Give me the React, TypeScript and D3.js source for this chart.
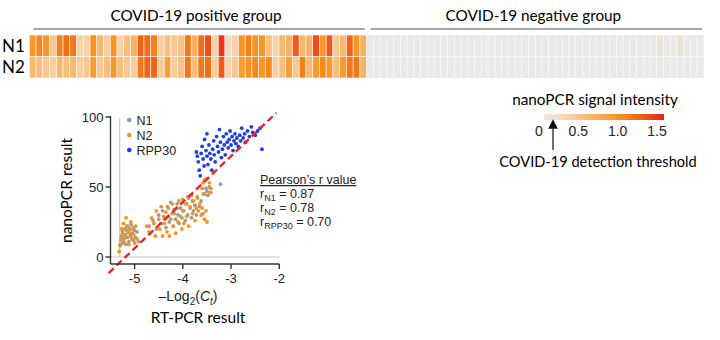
import React from 'react';
import * as d3 from 'd3';

// ---------- DATA ----------
const groupLabels = ['COVID-19 positive group', 'COVID-19 negative group'];
const rowLabels = ['N1', 'N2'];

const posN1 = [0.9, 1.0, 0.9, 0.4, 1.05, 1.15, 1.1, 0.3, 0.3, 0.95,
  0.55, 0.35, 0.95, 0.3, 0.5, 0.6, 1.2, 1.15, 1.05, 0.35,
  0.5, 0.4, 0.45, 1.1, 0.6, 1.15, 1.3, 0.3, 1.4, 0.2,
  0.3, 0.95, 1.05, 0.95, 0.9, 0.5, 0.3, 0.55, 0.6, 1.25,
  0.55, 0.6, 1.3, 0.9, 1.25, 0.4, 0.55, 1.2, 0.9, 0.6];
const posN2 = [0.55, 0.5, 0.4, 0.35, 0.55, 0.5, 0.55, 0.35, 0.4, 0.85,
  0.4, 0.5, 0.9, 0.5, 0.4, 0.35, 1.1, 1.2, 1.2, 0.35,
  0.8, 0.35, 0.45, 1.1, 0.5, 1.1, 1.15, 0.35, 1.25, 0.3,
  0.4, 0.85, 0.95, 1.0, 0.9, 1.0, 0.35, 0.5, 0.8, 0.4,
  1.05, 0.55, 0.85, 1.0, 0.9, 0.5, 0.85, 1.1, 1.1, 0.6];
const negN1 = [0, 0, 0, 0, 0, 0, 0, 0, 0, 0,
  0, 0, 0, 0, 0, 0, 0, 0, 0, 0,
  0, 0, 0, 0, 0, 0, 0, 0, 0, 0,
  0, 0, 0, 0, 0, 0, 0, 0, 0, 0,
  0, 0, 0, 0.08, 0, 0, 0.1, 0, 0, 0];
const negN2 = [0, 0, 0, 0, 0, 0, 0, 0, 0, 0,
  0, 0, 0, 0, 0, 0, 0, 0, 0, 0,
  0, 0, 0, 0, 0, 0, 0, 0, 0, 0,
  0, 0, 0, 0, 0, 0, 0, 0, 0, 0,
  0, 0, 0, 0, 0, 0, 0, 0, 0, 0];

const colorStops = [0, 0.3, 0.6, 0.95, 1.2, 1.5];
const colorRange = ['#ebe9e7', '#f8d3aa', '#f9b265', '#f7931e', '#f26415', '#e91c1f'];
const colorbarTicks = ['0', '0.5', '1.0', '1.5'];

const n1Points: [number, number][] = [
  [-5.3, 9], [-5.28, 12], [-5.27, 15], [-5.25, 18], [-5.24, 10], [-5.22, 13], [-5.2, 20], [-5.19, 16],
  [-5.18, 9], [-5.16, 22], [-5.15, 14], [-5.13, 18], [-5.12, 11], [-5.1, 20], [-5.08, 15], [-5.07, 23],
  [-5.05, 17], [-5.03, 12], [-5.02, 21], [-5.0, 19], [-4.98, 14], [-4.95, 18], [-4.92, 11],
  [-4.7, 22], [-4.62, 26], [-4.55, 20], [-4.5, 30], [-4.45, 24], [-4.42, 33], [-4.38, 27], [-4.35, 21],
  [-4.32, 36], [-4.3, 29], [-4.28, 25], [-4.25, 39], [-4.22, 31], [-4.2, 22], [-4.18, 34], [-4.15, 27],
  [-4.12, 38], [-4.1, 30], [-4.08, 24], [-4.05, 35], [-4.02, 28], [-4.0, 41], [-3.98, 33], [-3.95, 26],
  [-3.92, 38], [-3.9, 30], [-3.88, 42], [-3.85, 35], [-3.82, 28], [-3.8, 40], [-3.78, 33], [-3.75, 37],
  [-3.72, 30], [-3.7, 43], [-3.65, 36], [-3.62, 40], [-3.58, 31], [-3.55, 45], [-3.52, 49], [-3.5, 47],
  [-3.48, 44], [-3.45, 50], [-3.42, 46], [-3.22, 52]];
const n2Points: [number, number][] = [
  [-5.32, 4], [-5.3, 8], [-5.28, 13], [-5.27, 20], [-5.25, 17], [-5.23, 24], [-5.22, 11], [-5.2, 15],
  [-5.18, 28], [-5.16, 19], [-5.14, 22], [-5.12, 9], [-5.1, 17], [-5.08, 25], [-5.06, 13], [-5.04, 20],
  [-5.02, 16], [-5.0, 10], [-4.98, 22], [-4.95, 13],
  [-4.75, 22], [-4.7, 18], [-4.65, 28], [-4.6, 24], [-4.57, 15], [-4.55, 33], [-4.5, 27], [-4.48, 20],
  [-4.45, 36], [-4.42, 15], [-4.4, 29], [-4.38, 24], [-4.35, 32], [-4.33, 18], [-4.3, 35], [-4.28, 15],
  [-4.25, 27], [-4.22, 38], [-4.2, 22], [-4.18, 31], [-4.15, 17], [-4.12, 35], [-4.1, 25], [-4.08, 40],
  [-4.05, 29], [-4.02, 20], [-4.0, 33], [-3.98, 24], [-3.95, 38], [-3.92, 29], [-3.9, 43], [-3.88, 22],
  [-3.85, 36], [-3.82, 44], [-3.8, 31], [-3.78, 40], [-3.75, 26], [-3.72, 35], [-3.7, 42], [-3.68, 33],
  [-3.65, 38], [-3.62, 30], [-3.6, 35], [-3.58, 45], [-3.55, 27], [-3.52, 33], [-3.5, 25], [-3.6, 49],
  [-3.58, 53], [-3.55, 55], [-3.5, 56], [-3.45, 53], [-3.42, 49], [-3.45, 46]];
const rppPoints: [number, number][] = [
  [-3.72, 75], [-3.7, 72], [-3.68, 68], [-3.66, 62], [-3.64, 58], [-3.62, 74], [-3.6, 79], [-3.58, 70],
  [-3.56, 65], [-3.55, 84], [-3.52, 76], [-3.5, 72], [-3.5, 88], [-3.48, 66], [-3.46, 80], [-3.44, 74],
  [-3.42, 70], [-3.4, 62], [-3.38, 77], [-3.36, 83], [-3.35, 73], [-3.33, 68], [-3.3, 86], [-3.28, 79],
  [-3.26, 75], [-3.24, 91], [-3.22, 82], [-3.2, 71], [-3.18, 77], [-3.16, 86], [-3.14, 80], [-3.12, 73],
  [-3.1, 88], [-3.08, 82], [-3.06, 78], [-3.04, 84], [-3.02, 90], [-3.0, 80], [-2.98, 86], [-2.96, 76],
  [-2.94, 83], [-2.92, 88], [-2.9, 81], [-2.88, 85], [-2.85, 79], [-2.82, 87], [-2.8, 83], [-2.78, 92],
  [-2.75, 85], [-2.72, 88], [-2.7, 82], [-2.66, 90], [-2.62, 86], [-2.58, 93], [-2.55, 89], [-2.5, 87],
  [-2.45, 90], [-2.4, 92], [-2.36, 77]];
const seriesNames = ['N1', 'N2', 'RPP30'];
const seriesColors = ['#9b9b9b', '#f7941d', '#1f3fe0'];
const xTicks = [-5, -4, -3, -2];
const yTicks = [0, 50, 100];
const fitLine: [number, number][] = [[-5.54, -11.5], [-2.06, 103]];
const pearson = [
  { sub: 'N1', r: '0.87' },
  { sub: 'N2', r: '0.78' },
  { sub: 'RPP30', r: '0.70' },
];

// ---------- COMPONENT ----------
const titleFont = 'Lato, "Open Sans", sans-serif';
const axisFont = '"Liberation Sans", Arial, sans-serif';

export default function App() {
  const color = d3.scaleLinear<string>().domain(colorStops).range(colorRange).clamp(true);

  const nCols = posN1.length + negN1.length;
  const hx = d3.scaleBand<number>().domain(d3.range(nCols)).range([29.3, 704]).paddingInner(0);
  const hy = d3.scaleBand<string>().domain(rowLabels).range([35, 78]);
  const rows = [posN1.concat(negN1), posN2.concat(negN2)];

  const groupX = d3.scaleBand<number>().domain([0, 1]).range([29.3, 704]);

  const x = d3.scaleLinear().domain([-5.5, -2]).range([110.5, 279.3]);
  const y = d3.scaleLinear().domain([-5, 100]).range([264, 117]);

  const cb = d3.scaleLinear().domain([0, 1.5]).range([544, 664]);
  const cbLabel = d3.scaleLinear().domain([0, 3]).range([539, 657]);

  const series = [n1Points, n2Points, rppPoints];
  const line = d3.line<[number, number]>().x(d => x(d[0])).y(d => y(d[1]));

  return (
    <svg width={720} height={340} style={{ position: 'absolute', left: 0, top: 0, background: '#fff' }}>
      <defs>
        <linearGradient id="cbg" x1="0" x2="1" y1="0" y2="0">
          {colorStops.map((s, i) => (
            <stop key={i} offset={`${(s / 1.5) * 100}%`} stopColor={colorRange[i]} />
          ))}
        </linearGradient>
        <marker id="arrowHead" markerWidth="8" markerHeight="8" refX="4" refY="4" orient="auto">
          <path d="M0,0 L8,4 L0,8 Z" fill="#111" />
        </marker>
      </defs>

      {/* Heatmap group headers */}
      {groupLabels.map((g, i) => (
        <g key={g}>
          <text x={groupX(i)! + groupX.bandwidth() / 2 - 2} y={21} textAnchor="middle"
            fontFamily={titleFont} fontSize={15.3} fill="#000">{g}</text>
          <line x1={groupX(i)! + 4} x2={groupX(i)! + groupX.bandwidth() - 2} y1={29} y2={29}
            stroke="#8a8a8a" strokeWidth={1.5} />
        </g>
      ))}

      {/* Heatmap cells */}
      {rows.map((vals, r) => vals.map((v, c) => (
        <rect key={`${r}-${c}`} x={hx(c)} y={hy(rowLabels[r])} width={hx.bandwidth()} height={hy.bandwidth()}
          fill={color(v)} stroke="#fafafa" strokeWidth={0.6} />
      )))}
      {rowLabels.map(l => (
        <text key={l} x={2} y={hy(l)! + hy.bandwidth() / 2 + 6} fontFamily={titleFont} fontSize={17} fill="#000">{l}</text>
      ))}

      {/* Colorbar legend */}
      <text x={595} y={105} textAnchor="middle" fontFamily={titleFont} fontSize={15.3} fill="#000">nanoPCR signal intensity</text>
      <rect x={cb(0)} y={114} width={cb(1.5) - cb(0)} height={6} fill="url(#cbg)" />
      {colorbarTicks.map((t, i) => (
        <text key={t} x={cbLabel(i)} y={136} textAnchor="middle" fontFamily={axisFont} fontSize={14} fill="#222">{t}</text>
      ))}
      <line x1={553} x2={553} y1={150} y2={124} stroke="#111" strokeWidth={1.2} markerEnd="url(#arrowHead)" />
      <text x={598} y={167} textAnchor="middle" fontFamily={titleFont} fontSize={14.6} fill="#000">COVID-19 detection threshold</text>

      {/* Scatter: reference lines */}
      <line x1={x(-5.5)} x2={x(-2)} y1={y(0)} y2={y(0)} stroke="#c8c8c8" strokeWidth={1.2} />
      <line x1={x(-5.31)} x2={x(-5.31)} y1={y(0)} y2={y(99)} stroke="#c8c8c8" strokeWidth={1.2} />

      {/* Points */}
      {series.map((pts, si) => pts.map((p, i) => (
        <circle key={`${si}-${i}`} cx={x(p[0])} cy={y(p[1])} r={1.9} fill={seriesColors[si]} />
      )))}

      {/* Dashed fit line */}
      <path d={line(fitLine) || ''} stroke="#e8262a" strokeWidth={2.4} strokeDasharray="7,4" fill="none" />

      {/* Axes */}
      <line x1={x(-5.5)} x2={x(-5.5)} y1={y(100) - 1} y2={y(-5)} stroke="#333" strokeWidth={1.4} />
      <line x1={x(-5.5)} x2={x(-2)} y1={y(-5)} y2={y(-5)} stroke="#333" strokeWidth={1.4} />
      {yTicks.map(t => (
        <g key={t}>
          <line x1={x(-5.5) - 5} x2={x(-5.5)} y1={y(t)} y2={y(t)} stroke="#333" strokeWidth={1.4} />
          <text x={x(-5.5) - 7} y={y(t) + 4.5} textAnchor="end" fontFamily={axisFont} fontSize={13} fill="#222">{t}</text>
        </g>
      ))}
      {xTicks.map(t => (
        <g key={t}>
          <line x1={x(t)} x2={x(t)} y1={y(-5)} y2={y(-5) + 5} stroke="#333" strokeWidth={1.4} />
          <text x={x(t)} y={y(-5) + 19} textAnchor="middle" fontFamily={axisFont} fontSize={13} fill="#222">{`-${Math.abs(t)}`}</text>
        </g>
      ))}
      <text x={188} y={301} textAnchor="middle" fontFamily={axisFont} fontSize={14} fill="#222">
        –Log<tspan fontSize={10} dy={4}>2</tspan><tspan dy={-4}>(</tspan><tspan fontStyle="italic">C</tspan><tspan fontSize={10} dy={4} fontStyle="italic">t</tspan><tspan dy={-4}>)</tspan>
      </text>
      <text x={198} y={323} textAnchor="middle" fontFamily={titleFont} fontSize={15.5} fill="#000">RT-PCR result</text>
      <text transform={`translate(72,${(y(100) + y(-5)) / 2}) rotate(-90)`} textAnchor="middle"
        fontFamily={titleFont} fontSize={15.5} fill="#000">nanoPCR result</text>

      {/* Legend */}
      {seriesNames.map((s, i) => (
        <g key={s}>
          <circle cx={129.3} cy={120 + i * 15} r={2.3} fill={seriesColors[i]} />
          <text x={136.5} y={124.5 + i * 15} fontFamily={axisFont} fontSize={12.5} fill="#222">{s}</text>
        </g>
      ))}

      {/* Pearson */}
      <text x={260} y={184} fontFamily={axisFont} fontSize={12.5} fill="#222" textDecoration="underline">Pearson’s r value</text>
      {pearson.map((p, i) => (
        <text key={p.sub} x={260} y={198 + i * 14} fontFamily={axisFont} fontSize={12.5} fill="#222">
          r<tspan fontSize={9} dy={3}>{p.sub}</tspan><tspan dy={-3}>{` = ${p.r}`}</tspan>
        </text>
      ))}
    </svg>
  );
}
